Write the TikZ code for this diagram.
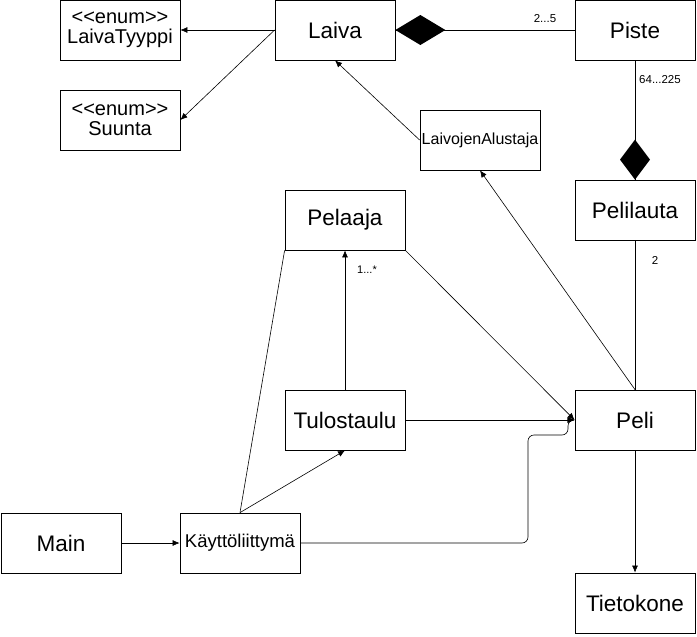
\documentclass[tikz,border=0pt]{standalone}
\usepackage{fontspec}
\setmainfont{Liberation Sans}
\usepackage{tikz}
\usetikzlibrary{arrows.meta,positioning,calc}

\begin{document}
\begin{tikzpicture}[x=1pt, y=-1pt,
    cls/.style={draw, line width=0.8pt, minimum width=120pt, minimum height=60pt, inner sep=0pt, font=\fontsize{22.5}{24}\selectfont},
    enumcls/.style={cls, align=center, font=\fontsize{20}{20}\selectfont},
    mult/.style={font=\fontsize{11.5}{12}\selectfont},
    assoc/.style={line width=0.6pt},
    dep/.style={line width=0.6pt, -{Latex[length=7pt,width=6pt]}}]
    \useasboundingbox (0,0) rectangle (697,637);

    % Classes
    \node[enumcls] (tyyppi) at (120,30) {<{}<enum>{}>\\LaivaTyyppi};
    \node[enumcls] (suunta) at (120,120) {<{}<enum>{}>\\Suunta};
    \node[cls] (laiva) at (335,30) {Laiva};
    \node[cls] (piste) at (635,30) {Piste};
    \node[cls, font=\fontsize{16}{18}\selectfont] (alustaja) at (480,140) {LaivojenAlustaja};
    \node[cls] (lauta) at (635,210) {Pelilauta};
    \node[cls] (pelaaja) at (345,220) {Pelaaja};
    \node[cls] (tulos) at (345,420) {Tulostaulu};
    \node[cls] (peli) at (635,420) {Peli};
    \node[cls] (main) at (61,543) {Main};
    \node[cls, font=\fontsize{18.5}{20}\selectfont] (ui) at (240,543) {Käyttöliittymä};
    \node[cls] (kone) at (635,603) {Tietokone};

    % Laiva and its enums
    \draw[dep] (laiva.west) -- (tyyppi.east);
    \draw[dep] (laiva.west) -- (suunta.east);

    % Compositions
    \draw[assoc] (piste.west) -- (laiva.east);
    \fill (laiva.east) -- ++(25,-15) -- ++(25,15) -- ++(-25,15) -- cycle;
    \node[mult] (m1) at (545,19) {2...5};
    \draw[assoc] (piste.south) -- (lauta.north);
    \fill (lauta.north) -- ++(15,-20) -- ++(-15,-20) -- ++(-15,20) -- cycle;
    \node[mult] (m2) at (660,80) {64...225};

    % Peli and the rest
    \draw[dep] (alustaja.west) -- (laiva.south);
    \draw[dep] (peli.north) -- (alustaja.south);
    \draw[assoc] (lauta.south) -- (peli.north);
    \node[mult] (m3) at (655,260) {2};
    \draw[dep] (pelaaja.south east) -- (peli.west);
    \draw[dep] (tulos.north) -- (pelaaja.south);
    \node[mult, font=\fontsize{11}{12}\selectfont] (m4) at (367,270) {1...*};
    \draw[dep] (tulos.east) -- (peli.west);
    \draw[dep] (peli.south) -- (kone.north);

    % Kayttoliittyma
    \draw[dep] (main.east) -- (ui.west);
    \draw[assoc] (ui.north) -- (pelaaja.south west);
    \draw[dep] (ui.north) -- (tulos.south);
    \draw[dep, rounded corners=6pt] (ui.east) -- (528,543) -- (528,435) -- (568,435) -- (568,420) -- (peli.west);
\end{tikzpicture}
\end{document}
